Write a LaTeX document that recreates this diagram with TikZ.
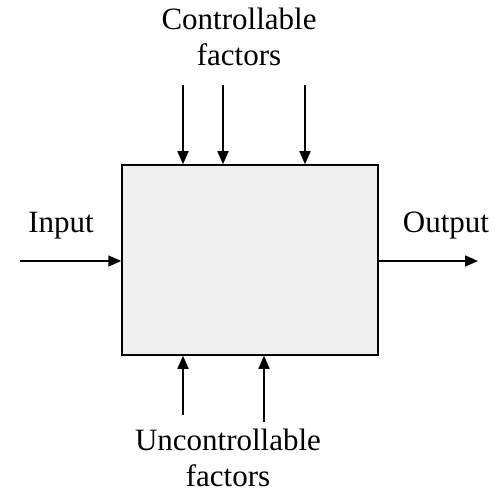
\documentclass[tikz,border=0pt]{standalone}
\usepackage{fontspec}
\setmainfont{Liberation Serif}
\usetikzlibrary{arrows.meta,positioning}
\tikzset{
  blk/.style={draw,line width=1.5pt,fill=black!6,minimum width=256pt,minimum height=190pt,inner sep=0pt},
  lbl/.style={font=\fontsize{31}{36}\selectfont,align=center,inner sep=0pt},
  arr/.style={line width=1.5pt,-{Triangle[length=13pt,width=11pt]}}
}
\begin{document}
\begin{tikzpicture}[x=1pt,y=-1pt]
   \useasboundingbox (0,0) rectangle (498,497);
   \node[blk] (sys) at (250,260) {};
   \node[lbl,anchor=north] (ctrl) at (239,8) {Controllable\\factors};
   \node[lbl,anchor=north] (unctrl) at (228,429) {Uncontrollable\\factors};
   \node[lbl,anchor=base] (in) at (61,233) {Input};
   \node[lbl,anchor=base] (out) at (446,233) {Output};
   \coordinate (c1) at (183,85);
   \coordinate (c2) at (223,85);
   \coordinate (c3) at (305,85);
   \coordinate (u1) at (183,415);
   \coordinate (u2) at (264,422);
   \coordinate (i0) at (20,261);
   \coordinate (o0) at (478,261);
    \path[arr]
    (c1) edge (c1 |- sys.north)
    (c2) edge (c2 |- sys.north)
    (c3) edge (c3 |- sys.north)
    (u1) edge (u1 |- sys.south)
    (u2) edge (u2 |- sys.south)
    (i0) edge (i0 -| sys.west)
    (o0 -| sys.east) edge (o0);
\end{tikzpicture}
\end{document}
